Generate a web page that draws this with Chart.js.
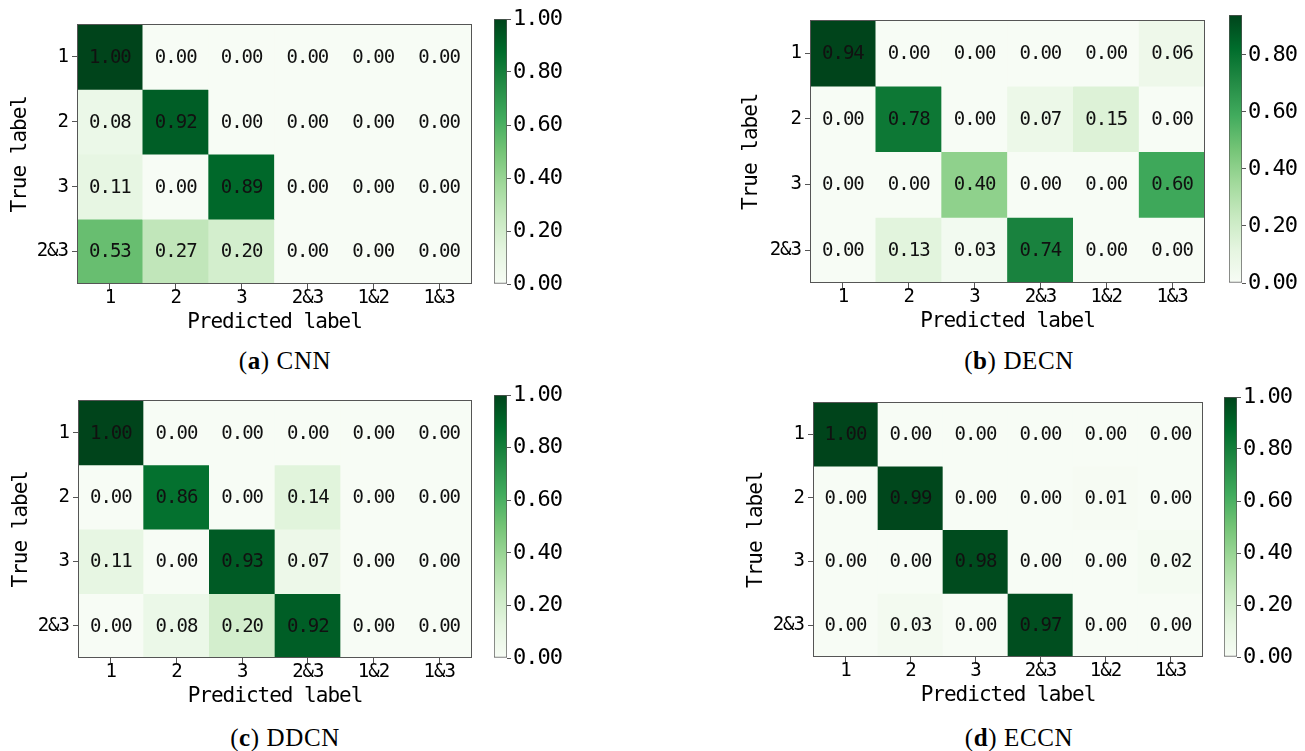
<!DOCTYPE html>
<html>
<head>
<meta charset="utf-8">
<script src="https://cdn.jsdelivr.net/npm/chart.js@4.4.0/dist/chart.umd.min.js"></script>
<style>
  body { margin: 0; background: #fff; width: 1305px; height: 751px; position: relative; overflow: hidden; }
  canvas { position: absolute; }
  .cap { position: absolute; width: 300px; text-align: center; font: 25px 'Liberation Serif', serif;
         letter-spacing: 0.6px; line-height: 25px; color: #000; }
</style>
</head>
<body>
<div class="cap" style="left:135px;top:348px">(<b>a</b>) CNN</div>
<div class="cap" style="left:869px;top:348px">(<b>b</b>) DECN</div>
<div class="cap" style="left:135px;top:725px">(<b>c</b>) DDCN</div>
<div class="cap" style="left:869px;top:725px">(<b>d</b>) ECCN</div>
<script>
// axis labels
const predLabels = ['1', '2', '3', '2&3', '1&2', '1&3'];
const trueLabels = ['1', '2', '3', '2&3'];
const cbarTicks = [0, 0.2, 0.4, 0.6, 0.8, 1.0];

// confusion matrices, one row per true label
const cnn = [
  [1.00, 0.00, 0.00, 0.00, 0.00, 0.00],
  [0.08, 0.92, 0.00, 0.00, 0.00, 0.00],
  [0.11, 0.00, 0.89, 0.00, 0.00, 0.00],
  [0.53, 0.27, 0.20, 0.00, 0.00, 0.00]
];
const decn = [
  [0.94, 0.00, 0.00, 0.00, 0.00, 0.06],
  [0.00, 0.78, 0.00, 0.07, 0.15, 0.00],
  [0.00, 0.00, 0.40, 0.00, 0.00, 0.60],
  [0.00, 0.13, 0.03, 0.74, 0.00, 0.00]
];
const ddcn = [
  [1.00, 0.00, 0.00, 0.00, 0.00, 0.00],
  [0.00, 0.86, 0.00, 0.14, 0.00, 0.00],
  [0.11, 0.00, 0.93, 0.07, 0.00, 0.00],
  [0.00, 0.08, 0.20, 0.92, 0.00, 0.00]
];
const eccn = [
  [1.00, 0.00, 0.00, 0.00, 0.00, 0.00],
  [0.00, 0.99, 0.00, 0.00, 0.01, 0.00],
  [0.00, 0.00, 0.98, 0.00, 0.00, 0.02],
  [0.00, 0.03, 0.00, 0.97, 0.00, 0.00]
];

// matplotlib "Greens"
const greens = ['#f7fcf5', '#e5f5e0', '#c7e9c0', '#a1d99b', '#74c476', '#41ab5d', '#238b45', '#006d2c', '#00441b'];
function hex(c) { return [1, 3, 5].map(i => parseInt(c.substr(i, 2), 16)); }
function greenAt(t) {
  t = Math.max(0, Math.min(1, t));
  const p = t * 8, i = Math.min(7, Math.floor(p)), f = p - i;
  const a = hex(greens[i]), b = hex(greens[i + 1]);
  const m = a.map((v, k) => Math.round(v + (b[k] - v) * f));
  return 'rgb(' + m.join(',') + ')';
}

Chart.defaults.font.family = "'DejaVu Sans Mono', monospace";
Chart.defaults.color = '#000';
Chart.defaults.animation = false;

const frameColor = '#555';

const spacing = {
  id: 'spacing',
  beforeLayout(chart) { chart.ctx.letterSpacing = '-1px'; },
  beforeDraw(chart) { chart.ctx.letterSpacing = '-1px'; }
};

const cellText = {
  id: 'cellText',
  afterDatasetsDraw(chart) {
    const ctx = chart.ctx;
    ctx.save();
    ctx.font = "19px 'DejaVu Sans Mono'";
    ctx.letterSpacing = '-1px';
    ctx.textAlign = 'center';
    ctx.textBaseline = 'middle';
    ctx.fillStyle = '#111';
    chart.data.datasets.forEach((ds, r) => {
      chart.getDatasetMeta(r).data.forEach((el, c) => {
        const p = el.getCenterPoint();
        ctx.fillText(ds.values[c].toFixed(2), p.x, p.y + 1);
      });
    });
    ctx.restore();
  }
};

const frame = {
  id: 'frame',
  afterDraw(chart) {
    const a = chart.chartArea, ctx = chart.ctx;
    ctx.save();
    ctx.strokeStyle = frameColor;
    ctx.lineWidth = 1;
    ctx.strokeRect(Math.round(a.left) + 0.5, Math.round(a.top) + 0.5,
                   Math.round(a.right - a.left) - 1, Math.round(a.bottom - a.top) - 1);
    ctx.restore();
  }
};

function addCanvas(left, top, w, h) {
  const c = document.createElement('canvas');
  c.width = w; c.height = h;
  c.style.left = left + 'px'; c.style.top = top + 'px';
  c.style.width = w + 'px'; c.style.height = h + 'px';
  document.body.appendChild(c);
  return c;
}

function drawPanel(p) {
  const vmax = Math.max(...p.values.flat());
  const axisW = 80, axisH = 72, padT = 10, padR = 10;
  const cLeft = p.L - axisW, cTop = p.T - padT;
  const cv = addCanvas(cLeft, cTop, p.R - p.L + axisW + padR, p.B - p.T + padT + axisH);

  new Chart(cv, {
    type: 'bar',
    data: {
      labels: predLabels,
      datasets: p.values.map((row, r) => ({
        values: row,
        data: row.map(() => [r, r + 1]),
        backgroundColor: row.map(v => greenAt(v / vmax)),
        borderWidth: 0,
        barPercentage: 1,
        categoryPercentage: 1,
        grouped: false
      }))
    },
    options: {
      responsive: false,
      layout: { padding: { top: padT, right: padR, left: 0, bottom: 0 } },
      plugins: { legend: { display: false }, tooltip: { enabled: false } },
      scales: {
        x: {
          type: 'category',
          offset: true,
          grid: { offset: false, drawOnChartArea: false, tickLength: 5, color: frameColor },
          border: { display: false },
          ticks: { font: { size: 19, lineHeight: 1 }, padding: 0, maxRotation: 0, autoSkip: false },
          title: { display: true, text: 'Predicted label', font: { size: 21, lineHeight: 1 },
                   padding: { top: 0, bottom: 23 } },
          afterFit: s => { s.height = axisH; }
        },
        y: {
          type: 'linear',
          min: 0, max: trueLabels.length,
          reverse: true,
          afterBuildTicks: s => { s.ticks = trueLabels.map((_, i) => ({ value: i + 0.5 })); },
          grid: { drawOnChartArea: false, tickLength: 5, color: frameColor },
          border: { display: false },
          ticks: { font: { size: 19 }, padding: 4, callback: (v, i) => trueLabels[i] },
          title: { display: true, text: 'True label', font: { size: 21, lineHeight: 1 },
                   padding: { top: p.titleX - cLeft - 10.5, bottom: 0 } },
          afterFit: s => { s.width = axisW; }
        }
      }
    },
    plugins: [spacing, cellText, frame]
  });

  // colour bar
  const cbPad = 16, cbAxisW = 70;
  const cb = addCanvas(p.cbL, p.T - cbPad, p.cbR - p.cbL + cbAxisW, p.B - p.T + 2 * cbPad);
  new Chart(cb, {
    type: 'bar',
    data: {
      labels: [''],
      datasets: [{
        data: [vmax],
        backgroundColor: ctx => {
          const a = ctx.chart.chartArea;
          if (!a) return greens[0];
          const g = ctx.chart.ctx.createLinearGradient(0, a.bottom, 0, a.top);
          greens.forEach((c, i) => g.addColorStop(i / 8, c));
          return g;
        },
        borderColor: frameColor,
        borderWidth: 1,
        borderSkipped: false,
        barPercentage: 1,
        categoryPercentage: 1
      }]
    },
    options: {
      responsive: false,
      layout: { padding: { top: cbPad, bottom: cbPad, left: 0, right: 0 } },
      plugins: { legend: { display: false }, tooltip: { enabled: false } },
      scales: {
        x: { display: false },
        y: {
          position: 'right',
          min: 0, max: vmax,
          afterBuildTicks: s => { s.ticks = cbarTicks.filter(v => v <= vmax + 1e-9).map(v => ({ value: v })); },
          grid: { drawOnChartArea: false, tickLength: 4, color: frameColor },
          border: { display: false },
          ticks: { font: { size: 22 }, padding: 2, callback: v => v.toFixed(2) },
          afterFit: s => { s.width = cbAxisW; }
        }
      }
    },
    plugins: [spacing]
  });
}

const panels = [
  { values: cnn,  L: 77,  T: 19,  R: 472,  B: 284, cbL: 494,  cbR: 507,  titleX: 21 },
  { values: decn, L: 810, T: 15,  R: 1205, B: 283, cbL: 1229, cbR: 1242, titleX: 752 },
  { values: ddcn, L: 78,  T: 395, R: 472,  B: 658, cbL: 494,  cbR: 507,  titleX: 22 },
  { values: eccn, L: 813, T: 397, R: 1203, B: 657, cbL: 1224, cbR: 1237, titleX: 757 }
];
panels.forEach(drawPanel);
</script>
</body>
</html>
